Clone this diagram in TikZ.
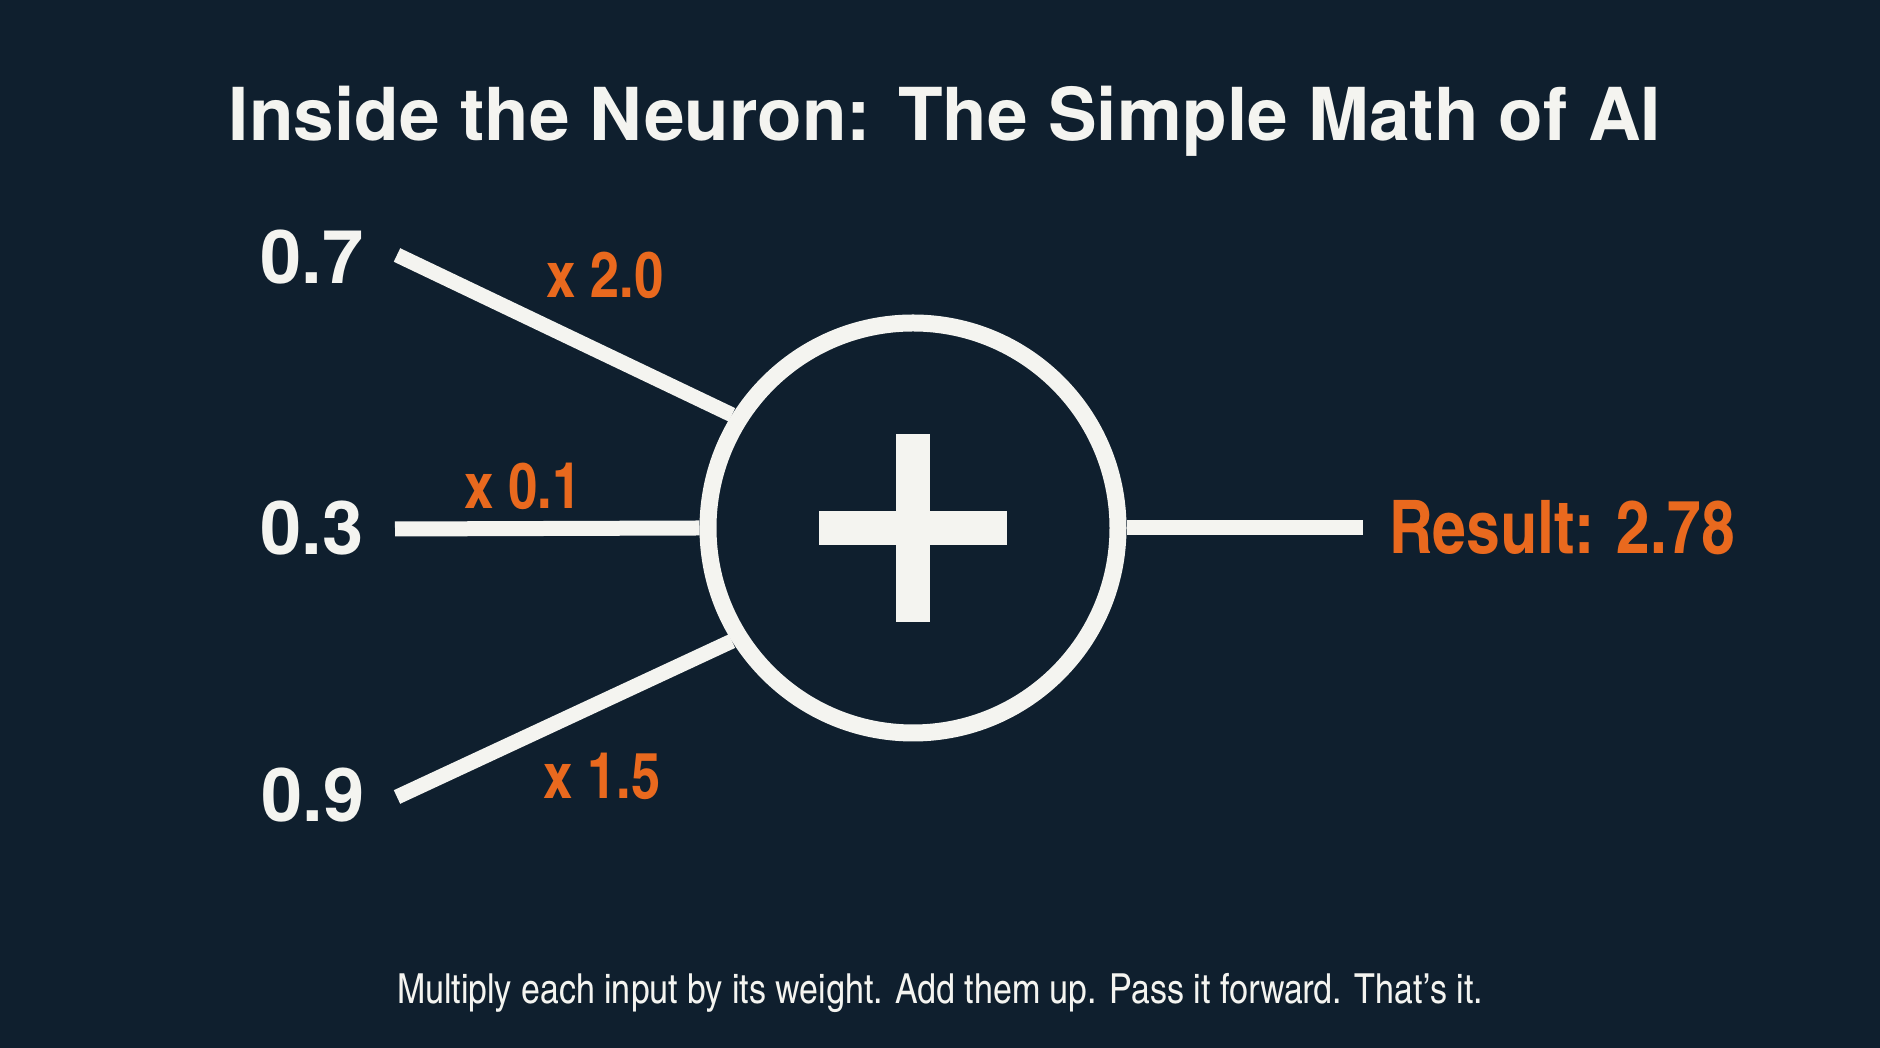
\documentclass[tikz,border=0pt]{standalone}
\usepackage{fontspec}
\setmainfont{TeX Gyre Heros}
\newfontfamily\condfont{texgyreheroscn}[Extension=.otf, UprightFont=*-regular, BoldFont=*-bold]
\definecolor{bgnavy}{HTML}{0F1F2E}
\definecolor{wtorange}{HTML}{E9691E}
\definecolor{chalk}{HTML}{F4F4F0}

\begin{document}
\begin{tikzpicture}[x=0.5pt, y=0.5pt, line join=round,
    wire/.style={draw=chalk, line width=7.5pt},
    inval/.style={text=chalk, font=\fontsize{37}{40}\selectfont\bfseries},
    weight/.style={text=wtorange, font=\condfont\bfseries\fontsize{32}{36}\selectfont}]
  \fill[bgnavy] (0,0) rectangle (1880,1048);
  \useasboundingbox (0,0) rectangle (1880,1048);

  % title
  \node[text=chalk, font=\fontsize{36.5}{40}\selectfont\bfseries, anchor=base] (title) at (945,907) {Inside the Neuron: The Simple Math of AI};

  % the neuron
  \node[circle, draw=chalk, line width=8.5pt, minimum size=205pt, inner sep=0pt] (sum) at (913,520) {};
  \fill[chalk] (sum.center) ++(-94,-17) rectangle ++(188,34);
  \fill[chalk] (sum.center) ++(-17,-94) rectangle ++(34,188);

  % inputs
  \coordinate (i1) at (397,793);
  \coordinate (i2) at (395,519);
  \coordinate (i3) at (397,251);
  \coordinate (out) at (1363,520);

  \node[inval] (v1) at (312,791) {0.7};
  \node[inval] (v2) at (312,520) {0.3};
  \node[inval] (v3) at (313,253) {0.9};

  \draw[wire] (i1) -- (sum.148);
  \draw[wire] (i2) -- (sum.west);
  \draw[wire] (i3) -- (sum.212);
  \draw[wire] (sum.east) -- (out);

  % weights
  \node[weight] (w1) at (605,773) {x 2.0};
  \node[weight] (w2) at (523,562) {x 0.1};
  \node[weight] (w3) at (602,272) {x 1.5};

  % output
  \node[text=wtorange, font=\condfont\bfseries\fontsize{37}{40}\selectfont] (res) at (1562,520) {Result: 2.78};

  % caption
  \node[text=chalk, font=\condfont\fontsize{20.7}{23}\selectfont, anchor=base] (note) at (940,44) {Multiply each input by its weight. Add them up. Pass it forward. That’s it.};
\end{tikzpicture}
\end{document}
